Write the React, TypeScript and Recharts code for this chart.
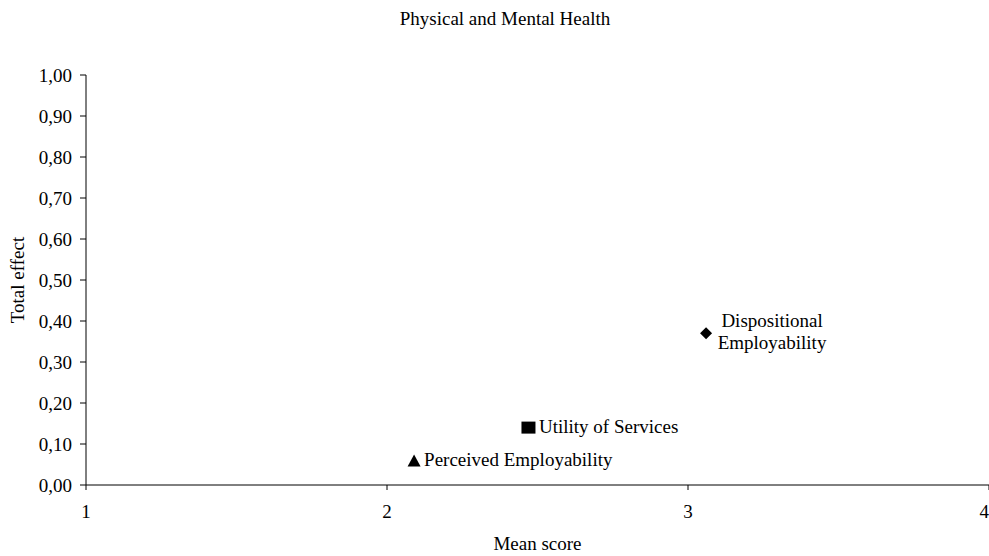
import { ScatterChart, Scatter, XAxis, YAxis, Label } from 'recharts'

const names = ['Dispositional Employability', 'Utility of Services', 'Perceived Employability']
const meanScores = [3.06, 2.47, 2.09]
const totalEffects = [0.37, 0.14, 0.06]
const xTicks = [1, 2, 3, 4]
const yTicks = [0, 0.1, 0.2, 0.3, 0.4, 0.5, 0.6, 0.7, 0.8, 0.9, 1]

const FONT = 'Liberation Serif, DejaVu Serif, serif'
const FS = 19

const points = names.map((name, i) => ({ name, x: meanScores[i], y: totalEffects[i] }))

const diamond = (props: any) => {
  const { cx, cy } = props
  return (
    <g>
      <path d={`M${cx},${cy - 6} L${cx + 6},${cy} L${cx},${cy + 6} L${cx - 6},${cy} Z`} fill="#000" />
      <text x={cx + 66} y={cy - 6} textAnchor="middle" style={{ fontFamily: FONT, fontSize: FS }} fill="#000">Dispositional</text>
      <text x={cx + 66} y={cy + 16} textAnchor="middle" style={{ fontFamily: FONT, fontSize: FS }} fill="#000">Employability</text>
    </g>
  )
}

const square = (props: any) => {
  const { cx, cy } = props
  return (
    <g>
      <rect x={cx - 7} y={cy - 6} width={14} height={12} fill="#000" />
      <text x={cx + 10.5} y={cy + 5} style={{ fontFamily: FONT, fontSize: FS }} fill="#000">Utility of Services</text>
    </g>
  )
}

const triangle = (props: any) => {
  const { cx, cy } = props
  return (
    <g>
      <path d={`M${cx},${cy - 6} L${cx + 6.5},${cy + 6} L${cx - 6.5},${cy + 6} Z`} fill="#000" />
      <text x={cx + 10} y={cy + 6} style={{ fontFamily: FONT, fontSize: FS }} fill="#000">Perceived Employability</text>
    </g>
  )
}

const shapes = [diamond, square, triangle]

export default function App() {
  return (
    <div style={{ position: 'absolute', left: 0, top: 0, width: 989, height: 556, background: '#fff', fontFamily: FONT, overflow: 'hidden' }}>
      <div style={{ position: 'absolute', top: 8, width: 1010, left: 0, textAlign: 'center', fontFamily: FONT, fontSize: FS, lineHeight: 'normal' }}>
        Physical and Mental Health
      </div>
      <ScatterChart width={989} height={556} margin={{ top: 75, right: 0, bottom: 0, left: 0 }} style={{ fontFamily: FONT }}>
        <XAxis
          type="number"
          dataKey="x"
          domain={[1, 4]}
          ticks={xTicks}
          allowDataOverflow
          stroke="#000"
          tickLine={{ stroke: '#000' }}
          tickSize={5}
          tickMargin={15}
          height={71}
          tick={{ fill: '#000', fontSize: FS, fontFamily: FONT }}
        >
          <Label value="Mean score" position="insideBottom" offset={6} style={{ fill: '#000', fontSize: FS, fontFamily: FONT }} />
        </XAxis>
        <YAxis
          type="number"
          dataKey="y"
          domain={[0, 1]}
          ticks={yTicks}
          width={86}
          stroke="#000"
          tickSize={6}
          tickMargin={8}
          tickFormatter={(v: number) => v.toFixed(2).replace('.', ',')}
          tick={{ fill: '#000', fontSize: FS, fontFamily: FONT }}
        >
          <Label value="Total effect" angle={-90} position="insideLeft" offset={17} style={{ fill: '#000', fontSize: FS, fontFamily: FONT, textAnchor: 'middle' }} />
        </YAxis>
        {points.map((p, i) => (
          <Scatter key={p.name} name={p.name} data={[p]} shape={shapes[i]} isAnimationActive={false} />
        ))}
      </ScatterChart>
    </div>
  )
}
